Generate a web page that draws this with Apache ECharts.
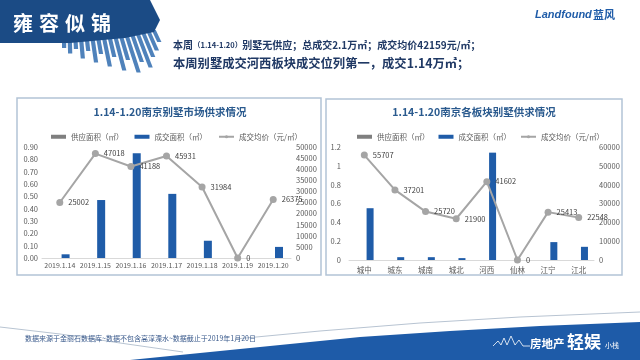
<!DOCTYPE html>
<html>
<head>
<meta charset="utf-8">
<script src="https://cdn.jsdelivr.net/npm/echarts@6/dist/echarts.min.js"></script>
<style>
html,body{margin:0;padding:0;background:#fff;}
#c{width:640px;height:360px;}
</style>
</head>
<body>
<div id="c"></div>
<script>
// ---- data ----
const dates = ['2019.1.14','2019.1.15','2019.1.16','2019.1.17','2019.1.18','2019.1.19','2019.1.20'];
const supplyByDate = [0, 0, 0, 0, 0, 0, 0];
const dealByDate = [0.03, 0.47, 0.85, 0.52, 0.14, 0, 0.09];
const priceByDate = [25002, 47018, 41188, 45931, 31984, 0, 26375];

const districts = ['城中','城东','城南','城北','河西','仙林','江宁','江北'];
const supplyByDistrict = [0, 0, 0, 0, 0, 0, 0, 0];
const dealByDistrict = [0.55, 0.03, 0.03, 0.02, 1.14, 0, 0.19, 0.14];
const priceByDistrict = [55707, 37201, 25720, 21900, 41602, 0, 25413, 22548];

const nameSupply = '供应面积（㎡）';
const nameDeal = '成交面积（㎡）';
const namePrice = '成交均价（元/㎡）';

const FONT = '"Noto Sans CJK SC","Noto Sans",sans-serif';
const BLUE = '#1f5ca8';
const GRAY = '#a5a5a5';
const TXT = '#595959';

const chart = echarts.init(document.getElementById('c'), null, {renderer: 'canvas'});

function plain(v) { return String(v); }
function valAxis(gi, min, max, interval, pos, margin, fmt) {
  return {
    type: 'value', gridIndex: gi, position: pos, min: min, max: max, interval: interval,
    splitLine: {show: false}, axisLine: {show: false}, axisTick: {show: false},
    axisLabel: {color: TXT, fontSize: 7.5, fontFamily: FONT, margin: margin, formatter: fmt || plain}
  };
}
function catAxis(gi, data, margin, fs) {
  return {
    type: 'category', gridIndex: gi, data: data,
    axisLine: {show: true, lineStyle: {color: '#d9d9d9', width: 1}},
    axisTick: {show: false},
    axisLabel: {color: TXT, fontSize: fs, fontFamily: FONT, margin: margin, interval: 0}
  };
}
function lineLabel() {
  return {show: true, position: 'right', distance: 5, color: '#404040', fontSize: 7.5, fontFamily: FONT};
}

// decorative skyline under banner (slanted buildings)
const sky = [];
const lens = [10, 16, 12, 22, 15, 27, 19, 32, 23, 37, 27, 40, 30, 36, 26, 20, 12];
for (let i = 0; i < lens.length; i++) {
  const x0 = 62 + i * 5.6;
  const top = 38 - i * 0.5;
  const L = lens[i];
  const dx = (i / lens.length) * 0.5 * L;
  sky.push({type:'polygon', shape:{points:[[x0,top],[x0+4.2,top],[x0+4.2+dx,top+L],[x0+dx,top+L]]}, style:{fill:'#4f82bb'}, z:1});
}

const graphics = [
  // header banner
  {type:'polygon', shape:{points:[[0,0],[150,0],[160,20],[154,32],[125,38],[70,43],[0,43]]}, style:{fill:'#1b4b85'}, z:2},
  {type:'text', x:13, y:23, style:{text:'雍', fill:'#fff', font:'bold 20px '+FONT, textVerticalAlign:'middle'}, z:3},
  {type:'text', x:39, y:23, style:{text:'容', fill:'#fff', font:'bold 20px '+FONT, textVerticalAlign:'middle'}, z:3},
  {type:'text', x:65, y:23, style:{text:'似', fill:'#fff', font:'bold 20px '+FONT, textVerticalAlign:'middle'}, z:3},
  {type:'text', x:91, y:23, style:{text:'锦', fill:'#fff', font:'bold 20px '+FONT, textVerticalAlign:'middle'}, z:3},
  // logo
  {type:'text', x:535, y:15, style:{text:'Landfound', fill:BLUE, font:'italic bold 11px "Liberation Sans",Arial,sans-serif', textVerticalAlign:'middle'}, z:3},
  {type:'text', x:593, y:15, style:{text:'蓝风', fill:BLUE, font:'bold 11px '+FONT, textVerticalAlign:'middle'}, z:3},
  // headline
  {type:'text', x:173, y:45, style:{
    rich:{
      a:{font:'bold 10px '+FONT, fill:'#1f3864'},
      b:{font:'bold 7.5px '+FONT, fill:'#1f3864'}
    },
    text:'{a|本周}{b|（1.14-1.20）}{a|别墅无供应；总成交2.1万㎡；成交均价42159元/㎡；}',
    textVerticalAlign:'middle'}, z:3},
  {type:'text', x:173, y:63, style:{text:'本周别墅成交河西板块成交位列第一，成交1.14万㎡；', font:'bold 12.3px '+FONT, fill:'#1f3864', textVerticalAlign:'middle'}, z:3},
  // chart boxes
  {type:'rect', shape:{x:17, y:98, width:304, height:177}, style:{fill:'none', stroke:'#b3c4d6', lineWidth:1.5}, z:0},
  {type:'rect', shape:{x:326, y:99, width:296, height:176}, style:{fill:'none', stroke:'#b3c4d6', lineWidth:1.5}, z:0},
  // chart titles
  {type:'text', x:170, y:112, style:{text:'1.14-1.20南京别墅市场供求情况', font:'bold 10.5px '+FONT, fill:'#2a5a8e', textAlign:'center', textVerticalAlign:'middle'}, z:3},
  {type:'text', x:474, y:112, style:{text:'1.14-1.20南京各板块别墅供求情况', font:'bold 10.5px '+FONT, fill:'#2a5a8e', textAlign:'center', textVerticalAlign:'middle'}, z:3},
  // footer
  {type:'polyline', shape:{points:[[0,327],[60,334],[120,343],[183,352]]}, style:{stroke:'#b8c4d2', lineWidth:1, fill:'none'}, z:1},
  {type:'polyline', shape:{points:[[235,339],[320,331],[420,323],[520,317],[640,312]]}, style:{stroke:'#b8c4d2', lineWidth:1.2, fill:'none'}, z:1},
  {type:'polygon', shape:{points:[[130,360],[200,353],[280,345],[360,337],[450,331],[540,326],[640,322],[640,360]]}, style:{fill:'#1e5ba8'}, z:1},
  {type:'text', x:25, y:338, style:{text:'数据来源于金丽石数据库~数据不包含高淳溧水~数据截止于2019年1月20日', font:'7px '+FONT, fill:'#3a5a8c', textVerticalAlign:'middle'}, z:3},
  {type:'polyline', shape:{points:[[493,346],[498,341],[501,345],[504,338],[507,345],[511,336],[515,345],[519,340],[523,346],[530,346]]}, style:{stroke:'#fff', lineWidth:0.8, fill:'none'}, z:3},
  {type:'text', x:530, y:344, style:{text:'房地产', font:'bold 11.5px '+FONT, fill:'#fff', textVerticalAlign:'middle'}, z:3},
  {type:'text', x:567, y:342, style:{text:'轻娱', font:'bold 17px '+FONT, fill:'#fff', textVerticalAlign:'middle'}, z:3},
  {type:'text', x:605, y:345, style:{text:'小栈', font:'7px '+FONT, fill:'#fff', textVerticalAlign:'middle'}, z:3}
].concat(sky);

const legendData = [
  {name: nameSupply, icon: 'rect'},
  {name: nameDeal, icon: 'rect'},
  {name: namePrice}
];

const option = {
  animation: false,
  textStyle: {fontFamily: FONT},
  graphic: {elements: graphics},
  legend: [
    {data: legendData, left: 46, top: 128, itemWidth: 15, itemHeight: 4, itemGap: 11,
     textStyle: {color: TXT, fontSize: 7.5, fontFamily: FONT}, selectedMode: false},
    {data: legendData, left: 352, top: 128, itemWidth: 15, itemHeight: 4, itemGap: 9,
     textStyle: {color: TXT, fontSize: 7.5, fontFamily: FONT}, selectedMode: false}
  ],
  grid: [
    {left: 42, top: 147, width: 249, height: 111},
    {left: 349, top: 147, width: 245, height: 113}
  ],
  xAxis: [catAxis(0, dates, 4, 7), catAxis(1, districts, 6, 7.5)],
  yAxis: [
    valAxis(0, 0, 0.9, 0.1, 'left', 4, function(v){return v.toFixed(2);}),
    valAxis(0, 0, 50000, 5000, 'right', 5),
    valAxis(1, 0, 1.2, 0.2, 'left', 8, function(v){return String(Math.round(v*10)/10);}),
    valAxis(1, 0, 60000, 10000, 'right', 5)
  ],
  series: [
    {name: nameSupply, type: 'bar', xAxisIndex: 0, yAxisIndex: 0, data: supplyByDate,
     barWidth: 8, barGap: '45%', itemStyle: {color: '#7f7f7f'}},
    {name: nameDeal, type: 'bar', xAxisIndex: 0, yAxisIndex: 0, data: dealByDate,
     barWidth: 8, barGap: '45%', itemStyle: {color: BLUE}},
    {name: namePrice, type: 'line', xAxisIndex: 0, yAxisIndex: 1, data: priceByDate,
     symbol: 'circle', symbolSize: 7, lineStyle: {color: GRAY, width: 2}, itemStyle: {color: GRAY},
     label: lineLabel(), z: 5},
    {name: nameSupply, type: 'bar', xAxisIndex: 1, yAxisIndex: 2, data: supplyByDistrict,
     barWidth: 7, barGap: '65%', itemStyle: {color: '#7f7f7f'}},
    {name: nameDeal, type: 'bar', xAxisIndex: 1, yAxisIndex: 2, data: dealByDistrict,
     barWidth: 7, barGap: '65%', itemStyle: {color: BLUE}},
    {name: namePrice, type: 'line', xAxisIndex: 1, yAxisIndex: 3, data: priceByDistrict,
     symbol: 'circle', symbolSize: 7, lineStyle: {color: GRAY, width: 2}, itemStyle: {color: GRAY},
     label: lineLabel(), z: 5}
  ]
};
chart.setOption(option);
</script>
</body>
</html>
